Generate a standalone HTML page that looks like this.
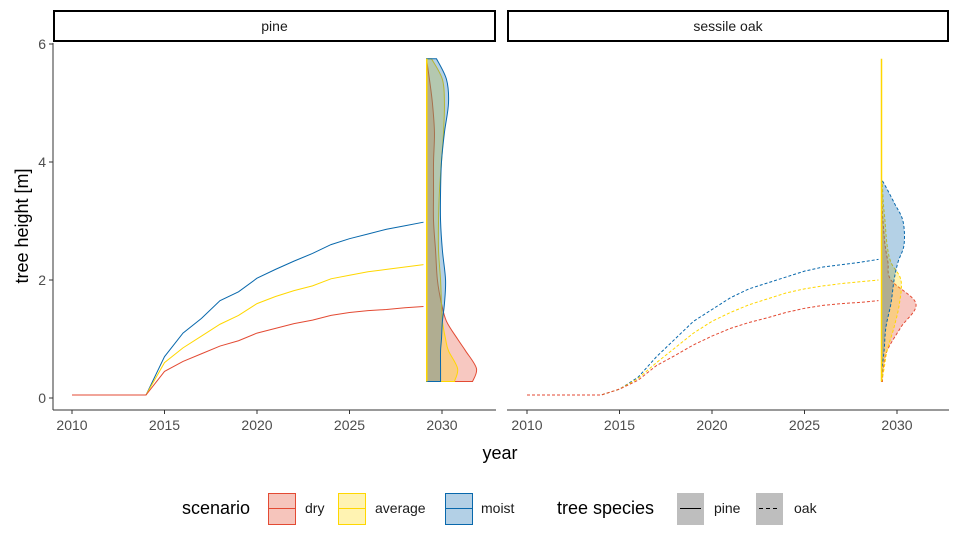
<!DOCTYPE html>
<html><head><meta charset="utf-8">
<style>
body{margin:0;background:#fff;}
svg text{font-family:"Liberation Sans",sans-serif;}
</style></head>
<body>
<svg id="chart" width="960" height="540" viewBox="0 0 960 540" style="position:absolute;left:0;top:0">
<g id="g"></g>
</svg>
<script>
const years=[2010,2011,2012,2013,2014,2015,2016,2017,2018,2019,2020,2021,2022,2023,2024,2025,2026,2027,2028,2029];
const pineMoist=[0.05,0.05,0.05,0.05,0.05,0.7,1.1,1.35,1.65,1.8,2.03,2.18,2.32,2.45,2.6,2.7,2.78,2.86,2.92,2.98];
const pineAverage=[0.05,0.05,0.05,0.05,0.05,0.6,0.85,1.05,1.25,1.4,1.6,1.72,1.82,1.9,2.02,2.08,2.14,2.18,2.22,2.26];
const pineDry=[0.05,0.05,0.05,0.05,0.05,0.45,0.62,0.75,0.88,0.97,1.1,1.18,1.26,1.32,1.4,1.45,1.48,1.5,1.53,1.55];
const oakMoist=[0.05,0.05,0.05,0.05,0.05,0.15,0.35,0.7,1.0,1.3,1.5,1.7,1.85,1.95,2.05,2.15,2.22,2.26,2.3,2.35];
const oakAverage=[0.05,0.05,0.05,0.05,0.05,0.15,0.33,0.6,0.85,1.1,1.3,1.45,1.58,1.68,1.78,1.85,1.9,1.94,1.97,2.0];
const oakDry=[0.05,0.05,0.05,0.05,0.05,0.15,0.3,0.55,0.72,0.9,1.05,1.18,1.28,1.36,1.45,1.52,1.57,1.6,1.62,1.65];
// density widths in years, from the 2029 baseline
const pineDensH=[0.28,0.5,0.8,1.0,1.3,1.6,2.0,2.5,3.0,3.5,4.0,4.5,5.0,5.4,5.75];
const pineDensMoist=[0.76,0.76,0.76,0.81,0.86,0.97,1.03,0.86,0.76,0.76,0.81,0.97,1.19,1.08,0.54];
const pineDensAverage=[1.51,1.68,1.19,1.03,0.86,0.81,0.76,0.65,0.65,0.7,0.81,0.92,0.97,0.86,0.27];
const pineDensDry=[2.49,2.7,2.11,1.68,1.08,0.81,0.59,0.49,0.38,0.38,0.38,0.43,0.32,0.16,0.0];
const oakDensH=[0.28,0.5,0.8,1.2,1.6,2.0,2.3,2.6,3.0,3.3,3.6,3.7];
const oakDensMoist=[0.0,0.03,0.14,0.24,0.51,0.68,0.89,1.22,1.16,0.7,0.2,0.0];
const oakDensAverage=[0.0,0.14,0.3,0.68,0.97,1.05,0.51,0.3,0.19,0.1,0.05,0.0];
const oakDensDry=[0.05,0.1,0.3,1.05,1.86,0.51,0.35,0.19,0.08,0.03,0.0,0.0];
const yTicks=[0,2,4,6];
const xTicks=[2010,2015,2020,2025,2030];

const C={dry:"#e34a33",average:"#ffd700",moist:"#0868ac"};
const NS="http://www.w3.org/2000/svg";
const g=document.getElementById('g');
function el(t,a,p){const e=document.createElementNS(NS,t);for(const k in a)e.setAttribute(k,a[k]);(p||g).appendChild(e);return e;}
const yS=v=>398-v*59;
const panels=[{x0:53,x1:496,title:"pine",base:72},{x0:507,x1:949,title:"sessile oak",base:527}];
const xS=(p,v)=>p.base+(v-2010)*18.5;

panels.forEach((p,i)=>{
  const s=el('rect',{x:p.x0+1,y:11,width:p.x1-p.x0-2,height:30,fill:'#fff',stroke:'#000','stroke-width':2});
  
  
  const t=el('text',{x:(p.x0+p.x1)/2,y:31,'font-size':14,'text-anchor':'middle',fill:'#1a1a1a'});
  t.textContent=p.title;
  
  
  const ax=el('line',{x1:p.x0,x2:p.x1,y1:410,y2:410,stroke:'#333','stroke-width':1});
  
  
  xTicks.forEach(v=>{
    el('line',{x1:xS(p,v),x2:xS(p,v),y1:410,y2:414,stroke:'#333'});
    const tt=el('text',{x:xS(p,v),y:430,'font-size':14,'text-anchor':'middle',fill:'#4d4d4d'});
    tt.textContent=v;
    
    
  });
});
const ya=el('line',{x1:53,x2:53,y1:43,y2:410,stroke:'#333'});


yTicks.forEach(v=>{
  el('line',{x1:49,x2:53,y1:yS(v),y2:yS(v),stroke:'#333'});
  const t=el('text',{x:46,y:yS(v)+5,'font-size':14,'text-anchor':'end',fill:'#4d4d4d'});
  t.textContent=v;
  
  
});

function smooth(pts){
  let d=`M${pts[0][0]},${pts[0][1]}`;
  for(let i=0;i<pts.length-1;i++){
    const p0=pts[i-1]||pts[i],p1=pts[i],p2=pts[i+1],p3=pts[i+2]||p2;
    const c1=[p1[0]+(p2[0]-p0[0])/6,p1[1]+(p2[1]-p0[1])/6];
    const c2=[p2[0]-(p3[0]-p1[0])/6,p2[1]-(p3[1]-p1[1])/6];
    d+=` C${c1[0]},${c1[1]} ${c2[0]},${c2[1]} ${p2[0]},${p2[1]}`;
  }
  return d;
}
function dens(p,H,W,col,dash,name){
  const b=xS(p,2029)+3;
  const pts=H.map((h,k)=>[b+W[k]*18.5,yS(h)]);
  let d=`M${b},${yS(H[0])} L`+smooth(pts).slice(1)+` L${b},${yS(H[H.length-1])} Z`;
  const e=el('path',{d:d,fill:col,'fill-opacity':0.3,stroke:col,'stroke-width':1,'stroke-dasharray':dash});
  
  
}
function line(p,Y,col,dash,name){
  const d=years.map((y,k)=>(k?'L':'M')+xS(p,y)+','+yS(Y[k])).join(' ');
  const e=el('path',{d:d,fill:'none',stroke:col,'stroke-width':1,'stroke-dasharray':dash});
  
  
}
const P=panels[0],O=panels[1];
dens(P,pineDensH,pineDensDry,C.dry,'none','pine-dry-density');
dens(P,pineDensH,pineDensAverage,C.average,'none','pine-average-density');
dens(P,pineDensH,pineDensMoist,C.moist,'none','pine-moist-density');
const pb=el('rect',{x:xS(P,2029)+2.5,y:yS(5.75),width:1.5,height:yS(0.28)-yS(5.75),fill:C.average});


line(P,pineMoist,C.moist,'none','pine-moist-line');
line(P,pineAverage,C.average,'none','pine-average-line');
line(P,pineDry,C.dry,'none','pine-dry-line');
dens(O,oakDensH,oakDensDry,C.dry,'3,2','oak-dry-density');
dens(O,oakDensH,oakDensAverage,C.average,'3,2','oak-average-density');
dens(O,oakDensH,oakDensMoist,C.moist,'3,2','oak-moist-density');
const vl=el('line',{x1:xS(O,2029)+3,x2:xS(O,2029)+3,y1:yS(5.75),y2:yS(0.28),stroke:C.average,'stroke-width':1.5});


line(O,oakMoist,C.moist,'3,2','oak-moist-line');
line(O,oakAverage,C.average,'3,2','oak-average-line');
line(O,oakDry,C.dry,'3,2','oak-dry-line');
</script>
<svg style="position:absolute;left:0;top:0" width="960" height="540">
<text x="500" y="459" font-size="18" text-anchor="middle" fill="#000">year</text>
<text transform="translate(28,226) rotate(-90)" font-size="18" text-anchor="middle" fill="#000">tree height [m]</text>
<text x="182" y="514" font-size="18" fill="#000">scenario</text>
<g><rect x="268.5" y="493.5" width="27" height="31" fill="#f6c5bc" stroke="#e34a33"/><line x1="269" x2="295" y1="508.5" y2="508.5" stroke="#e34a33"/><text x="305" y="513" font-size="14" fill="#1a1a1a">dry</text></g>
<g><rect x="338.5" y="493.5" width="27" height="31" fill="#fff3b2" stroke="#ffd700"/><line x1="339" x2="365" y1="508.5" y2="508.5" stroke="#ffd700"/><text x="375" y="513" font-size="14" fill="#1a1a1a">average</text></g>
<g><rect x="445.5" y="493.5" width="27" height="31" fill="#b3d0e6" stroke="#0868ac"/><line x1="446" x2="472" y1="508.5" y2="508.5" stroke="#0868ac"/><text x="481" y="513" font-size="14" fill="#1a1a1a">moist</text></g>
<text x="557" y="514" font-size="18" fill="#000">tree species</text>
<g><rect x="677" y="493" width="27" height="32" fill="#bebebe"/><line x1="680" x2="701" y1="508.5" y2="508.5" stroke="#000"/><text x="714" y="513" font-size="14" fill="#1a1a1a">pine</text></g>
<g><rect x="756" y="493" width="27" height="32" fill="#bebebe"/><line x1="759" x2="780" y1="508.5" y2="508.5" stroke="#000" stroke-dasharray="4,3"/><text x="794" y="513" font-size="14" fill="#1a1a1a">oak</text></g>
</svg>
</body></html>
